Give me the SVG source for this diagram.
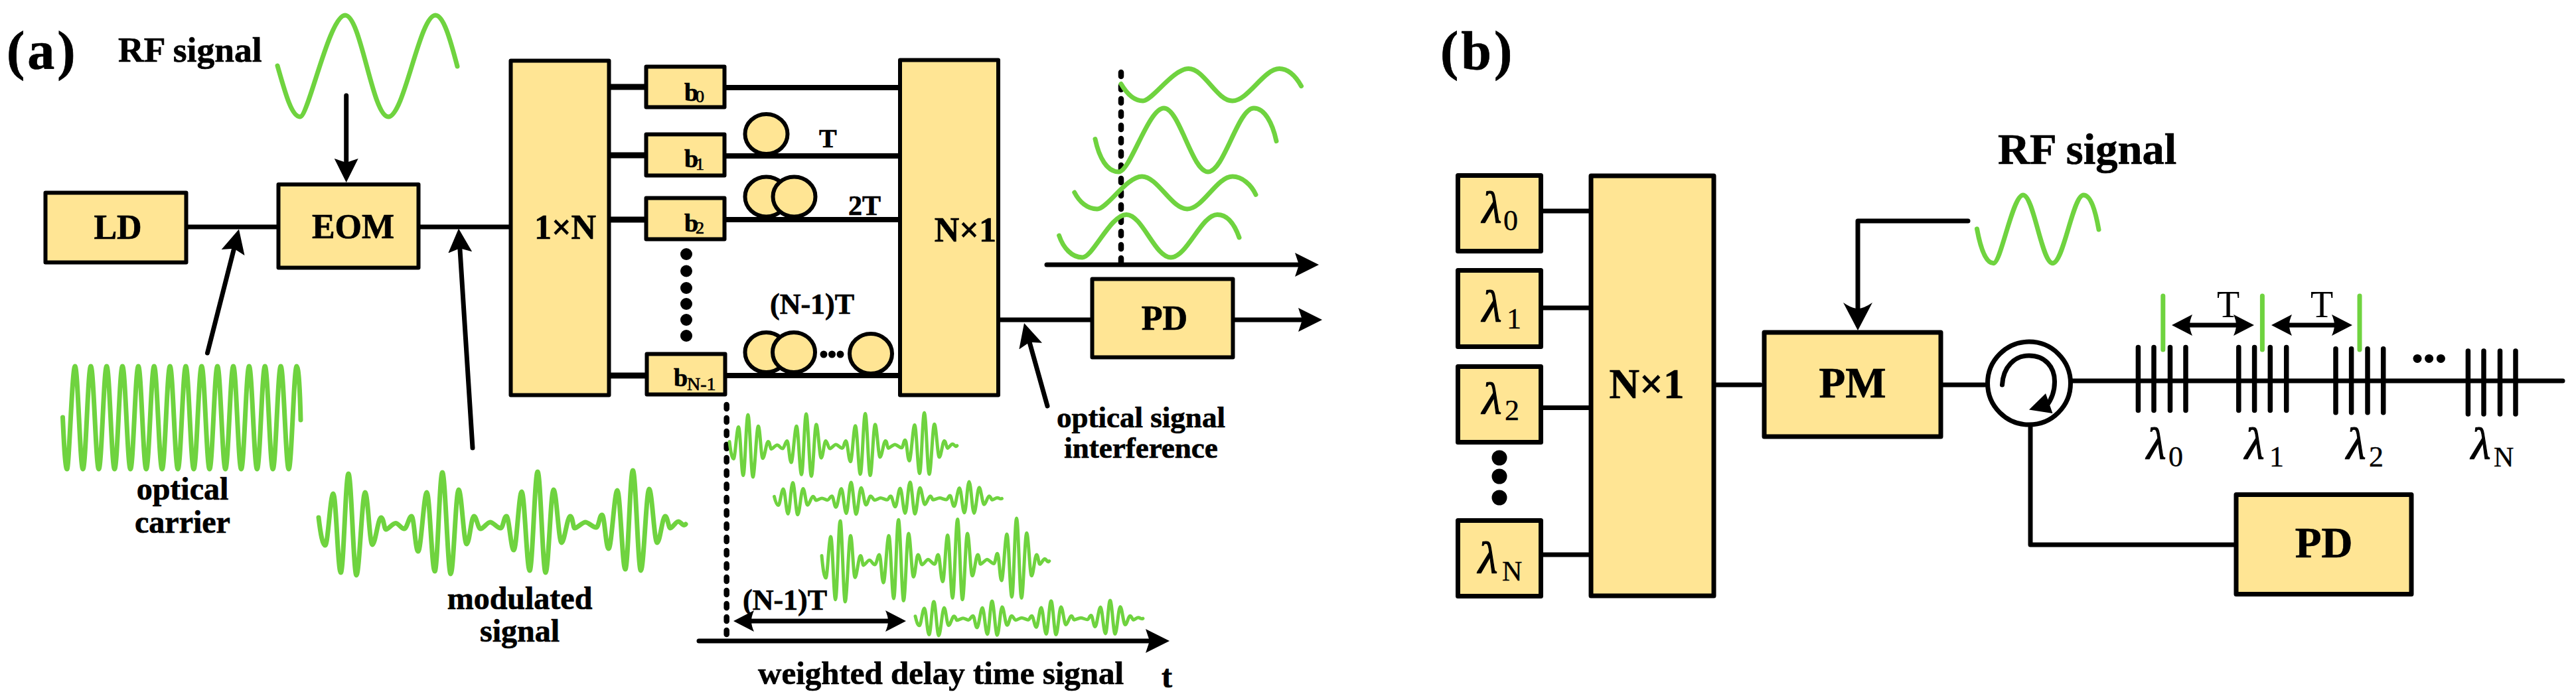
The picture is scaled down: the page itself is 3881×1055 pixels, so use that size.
<svg xmlns="http://www.w3.org/2000/svg" width="3881" height="1055" viewBox="0 0 3881 1055">
<style>
text{font-family:"Liberation Serif","Times New Roman",serif;fill:#000}
.b{font-weight:700;stroke:#000;stroke-width:.7}
.i{font-style:italic;stroke:#000;stroke-width:1.200}
.s{font-style:normal;stroke-width:.4}
.box{fill:#FFE594;stroke:#000;stroke-width:6;stroke-linejoin:round}
.bx6{fill:#FFE594;stroke:#000;stroke-width:7;stroke-linejoin:round}
.loop{fill:#FFE594;stroke:#000;stroke-width:6}
.w{fill:none;stroke:#6FD33F;stroke-width:7;stroke-linecap:round;stroke-linejoin:round}
.w4{fill:none;stroke:#6FD33F;stroke-width:5;stroke-linecap:round;stroke-linejoin:round}
.l{fill:none;stroke:#000;stroke-width:7;stroke-linecap:round;stroke-linejoin:round}
.d{fill:none;stroke:#000;stroke-width:8.500;stroke-dasharray:6 14;stroke-linecap:round}
.t{fill:none;stroke:#000;stroke-width:7.500;stroke-linecap:round}
.g{fill:none;stroke:#6FD33F;stroke-width:7;stroke-linecap:round}
.dot{fill:#000}
</style>
<defs>
<marker id="ah" markerUnits="userSpaceOnUse" markerWidth="38" markerHeight="38" viewBox="0 0 38 38" refX="26" refY="19" orient="auto"><path d="M0 1L36 19L0 37L6 19z"/></marker>
<marker id="ahL" markerUnits="userSpaceOnUse" markerWidth="46" markerHeight="46" viewBox="0 0 46 46" refX="31" refY="23" orient="auto"><path d="M0 1L42 23L0 45Q9 32 9 23Q9 14 0 1z"/></marker>
<marker id="ahD" markerUnits="userSpaceOnUse" markerWidth="34" markerHeight="34" viewBox="0 0 34 34" refX="20" refY="17" orient="auto-start-reverse"><path d="M0 1L31 17L0 33Q4 24 4 17Q4 10 0 1z"/></marker>
<path id="burst" vector-effect="non-scaling-stroke" d="M480 780C483 805 486 822 490 822S497.700 744 502 744S509.100 863 513.400 863S520.700 714 525 714S532.700 867 537 867S545.700 742 550 742S556.700 821 561 821S569.700 780 574 780S578.600 798 581.600 798S591.700 788.500 596 788.500S604.700 797 609 797S616 778 620 778S625.700 831 630 831S638.700 742 643 742S650.700 861 655 861S662.200 712 666.500 712S674.700 865 679 865S686.700 738 691 738S698.700 820 703 820S710 778 714 778S720 797 724 797S734.200 787 738.500 787S749.700 796 754 796S759 778 763 778S769.700 829 774 829S781.700 741 786 741S793.700 860 798 860S805.700 711 810 711S817.700 863 822 863S829.700 738 834 738S841.700 818 846 818S854.700 778 859 778S863 796 866 796S877.700 787 882 787S893.700 795 898 795S903 776 907 776S912.700 827 917 827S925.700 739 930 739S937.700 858 942 858S949.200 709 953.500 709S961.200 860 965.500 860S973.700 737 978 737S985.700 818 990 818S998 778 1002 778S1007 796 1010 796S1018 786 1022 786S1029 795 1033 790"/>
</defs>

<g id="connectors">
<path class="l" d="M283 342H417M633 342H767"/>
<path class="l" d="M920 131H971M920 234H971M920 331H971M920 566H972" style="stroke-width:9"/>
<path class="l" d="M1094 132H1354M1094 235H1354M1094 331H1354M1095 566H1354" style="stroke-width:8"/>
<path class="l" d="M1506 482H1643"/>
<path class="l" d="M1860 482H1982" marker-end="url(#ah)"/>
<path class="l" d="M1577 399H1977" marker-end="url(#ah)"/>
<path class="l" d="M521.700 144V265" marker-end="url(#ah)"/>
<path class="l" d="M312.500 532L357.500 355.300" marker-end="url(#ah)"/>
<path class="l" d="M712 675L691.600 354.400" marker-end="url(#ah)"/>
<path class="l" d="M1578 612L1545.700 496.600" marker-end="url(#ah)"/>
<path class="d" d="M1689 109V401"/>
<path class="d" d="M1094.700 610V970"/>
<path class="l" d="M1053 966H1752" marker-end="url(#ah)"/>
<path class="l" d="M1116 936H1354" marker-start="url(#ahD)" marker-end="url(#ahD)"/>
<path class="l" d="M2323 318H2394M2323 464H2394M2323 614.500H2394M2323 836H2394"/>
<path class="l" d="M2585 580H2652M2927 580H2990"/>
<path class="l" d="M2965 333H2799V487" marker-end="url(#ahL)"/>
<path class="l" d="M3122 574H3861"/>
<path class="l" d="M3059 644V821H3366"/>
<path class="l" d="M3283 490H3385" marker-start="url(#ahD)" marker-end="url(#ahD)"/>
<path class="l" d="M3433 490H3533" marker-start="url(#ahD)" marker-end="url(#ahD)"/>
</g>

<g id="label-a"><text class="b" x="10" y="104" font-size="82" letter-spacing="4">(a)</text></g>
<g id="label-rf-a"><text class="b" x="178" y="93" font-size="53.500">RF signal</text></g>
<g id="wave-rf-a"><path class="w" d="M418 99C430 141 439.400 176 452 176S496 23 520 23S561 176 585 176S632 23 656 23C668 23 678 58 689 100"/></g>
<g id="node-LD"><rect class="box" x="68.500" y="290.500" width="212" height="105"/><text class="b" x="177.500" y="360" font-size="52" text-anchor="middle">LD</text></g>
<g id="node-EOM"><rect class="box" x="419.500" y="278" width="211" height="125.500"/><text class="b" x="532" y="359" font-size="52" text-anchor="middle">EOM</text></g>
<g id="node-1xN"><rect class="box" x="769.500" y="91.500" width="148" height="504"/><text class="b" x="851.500" y="360" font-size="52" text-anchor="middle">1×N</text></g>
<g id="node-b0"><rect class="box" x="973.500" y="100.500" width="118" height="61"/><text class="b" x="1031" y="152" font-size="38">b<tspan x="1048" y="154" font-size="26" font-weight="400">0</tspan></text></g>
<g id="node-b1"><rect class="box" x="973.500" y="202.500" width="118" height="62"/><text class="b" x="1031" y="251.500" font-size="38">b<tspan x="1048" y="256" font-size="26" font-weight="400">1</tspan></text></g>
<g id="node-b2"><rect class="box" x="973.500" y="298.500" width="118" height="62"/><text class="b" x="1031" y="349" font-size="38">b<tspan x="1048" y="352" font-size="26" font-weight="400">2</tspan></text></g>
<g id="node-bN"><rect class="box" x="974.500" y="533.500" width="118" height="61"/><text class="b" x="1015" y="582" font-size="38">b<tspan x="1035" y="588" font-size="28" font-weight="400">N-1</tspan></text></g>
<g id="dots-a"><circle class="dot" cx="1034" cy="383" r="9"/><circle class="dot" cx="1034" cy="408.500" r="9"/><circle class="dot" cx="1034" cy="434" r="9"/><circle class="dot" cx="1034" cy="458" r="9"/><circle class="dot" cx="1034" cy="482" r="9"/><circle class="dot" cx="1034" cy="506" r="9"/></g>
<g id="delay-T"><ellipse class="loop" cx="1154.500" cy="202" rx="32" ry="30"/><text class="b" x="1234" y="222" font-size="40">T</text></g>
<g id="delay-2T"><ellipse class="loop" cx="1154.500" cy="296.500" rx="32" ry="30"/><ellipse class="loop" cx="1196.500" cy="296.500" rx="32" ry="30"/><text class="b" x="1278" y="323.500" font-size="42">2T</text></g>
<g id="delay-N1T"><ellipse class="loop" cx="1154.500" cy="531" rx="32" ry="30"/><ellipse class="loop" cx="1196" cy="531" rx="32" ry="30"/><ellipse class="loop" cx="1312" cy="533" rx="32" ry="30"/><circle class="dot" cx="1241" cy="534" r="5.500"/><circle class="dot" cx="1253.500" cy="534" r="5.500"/><circle class="dot" cx="1266" cy="534" r="5.500"/><text class="b" x="1160" y="472.500" font-size="44">(N-1)T</text></g>
<g id="node-Nx1-a"><rect class="box" x="1356" y="90.500" width="148" height="505"/><text class="b" x="1501" y="364" font-size="52" text-anchor="end">N×1</text></g>
<g id="node-PD-a"><rect class="box" x="1645.500" y="420.500" width="212" height="118"/><text class="b" x="1754.500" y="497" font-size="52" text-anchor="middle">PD</text></g>
<g id="waves-interference">
<path class="w" d="M1689 126.500C1697 140 1708 152 1722 152S1767 103.600 1790.700 103.600S1833 152 1856.700 152S1904 103.600 1927.500 103.600C1942 103.600 1952 115 1960.500 129.700"/>
<path class="w" d="M1650 209.600C1656 238 1668 259 1685.400 259S1730 163 1753.500 163S1796 259 1820 259S1865 163 1889 163C1905 163 1917 185 1923 212.700"/>
<path class="w" d="M1618.800 290C1626 304 1638 315 1653 315S1697 266 1720.500 266S1765 315 1788.600 315S1833 266 1857 266C1871 266 1885 278 1892 293.400"/>
<path class="w" d="M1595.600 355C1602 374 1615 388 1630.700 388S1673 323.400 1697 323.400S1740 388 1764 388S1810 323.400 1834 323.400C1850 323.400 1860 338 1867 358"/>
</g>
<g id="wave-carrier"><path class="w" d="M94.500 629C96 660 98 707 101 707
S108.700 552 113 552S120.600 707 124.900 707
S132.500 552 136.800 552S144.500 707 148.800 707
S156.400 552 160.700 552S168.300 707 172.600 707
S180.200 552 184.500 552S192.200 707 196.500 707
S204.100 552 208.400 552S216 707 220.300 707
S227.900 552 232.200 552S239.900 707 244.200 707
S251.800 552 256.100 552S263.700 707 268 707
S275.600 552 279.900 552S287.600 707 291.900 707
S299.500 552 303.800 552S311.400 707 315.700 707
S323.300 552 327.600 552S335.300 707 339.600 707
S347.200 552 351.500 552S359.100 707 363.400 707
S371 552 375.300 552S383 707 387.300 707
S394.900 552 399.200 552S406.800 707 411.100 707
S418.700 552 423 552S430.700 707 435 707
S442.700 552 447 552C450 552 452 590 453 633"/></g>
<g id="label-carrier"><text class="b" x="275" y="753" font-size="48" text-anchor="middle">optical</text><text class="b" x="275" y="803" font-size="48" text-anchor="middle">carrier</text></g>
<g id="wave-modulated"><use href="#burst" class="w"/></g>
<g id="label-modulated"><text class="b" x="783" y="918" font-size="48" text-anchor="middle">modulated</text><text class="b" x="783" y="967" font-size="48" text-anchor="middle">signal</text></g>
<g id="label-interference"><text class="b" x="1719" y="644" font-size="45" text-anchor="middle">optical signal</text><text class="b" x="1719" y="690" font-size="45" text-anchor="middle">interference</text></g>
<g id="waves-delayed">
<use href="#burst" class="w4" transform="translate(801.400 186.700) scale(.62 .614)"/>
<use href="#burst" class="w4" transform="translate(868.900 503.400) scale(.62 .314)"/>
<use href="#burst" class="w4" transform="translate(940.400 215.900) scale(.62 .797)"/>
<use href="#burst" class="w4" transform="translate(1081.400 667.500) scale(.62 .335)"/>
</g>
<g id="label-delay"><text class="b" x="1119" y="919" font-size="44">(N-1)T</text></g>
<g id="label-weighted"><text class="b" x="1142" y="1031" font-size="49">weighted delay time signal</text><text class="b" x="1750" y="1036" font-size="48">t</text></g>

<g id="label-b"><text class="b" x="2170" y="104" font-size="82" letter-spacing="4">(b)</text></g>
<g id="node-l0"><rect class="bx6" x="2196.500" y="264.500" width="125" height="114"/><text class="i" x="2233" y="336" font-size="68">λ<tspan class="s" x="2265" y="347" font-size="44">0</tspan></text></g>
<g id="node-l1"><rect class="bx6" x="2196.500" y="407.500" width="125" height="115"/><text class="i" x="2233" y="485" font-size="68">λ<tspan class="s" x="2270" y="495" font-size="44">1</tspan></text></g>
<g id="node-l2"><rect class="bx6" x="2196.500" y="552.500" width="125" height="114"/><text class="i" x="2233" y="624" font-size="68">λ<tspan class="s" x="2267" y="633" font-size="44">2</tspan></text></g>
<g id="node-lN"><rect class="bx6" x="2196.500" y="784.500" width="125" height="114"/><text class="i" x="2227" y="864" font-size="68">λ<tspan class="s" x="2263" y="875" font-size="42">N</tspan></text></g>
<g id="dots-b"><circle class="dot" cx="2259" cy="690" r="11.500"/><circle class="dot" cx="2259" cy="718" r="11.500"/><circle class="dot" cx="2259" cy="750" r="11.500"/></g>
<g id="node-Nx1-b"><rect class="bx6" x="2397" y="265" width="185" height="633"/><text class="b" x="2481" y="600" font-size="63" text-anchor="middle">N×1</text></g>
<g id="node-PM"><rect class="bx6" x="2658" y="501" width="266" height="157"/><text class="b" x="2791" y="599" font-size="65" text-anchor="middle">PM</text></g>
<g id="label-rf-b"><text class="b" x="3010" y="246.500" font-size="66.500">RF signal</text></g>
<g id="wave-rf-b"><path class="w" d="M2978.500 345C2984 375 2992 396.700 3003.400 396.700S3032 294 3048 294S3076 396.700 3092.500 396.700S3123 294 3139 294C3150 294 3157 318 3162 346"/></g>
<g id="node-circulator"><circle cx="3057" cy="577.600" r="62.500" fill="#fff" stroke="#000" stroke-width="7"/><path d="M3016.500 580C3018 553 3035 536 3057 536C3081 536 3095.500 553 3095.500 575C3095.500 590 3091 602 3083 612" fill="none" stroke="#000" stroke-width="7" stroke-linecap="round"/><path d="M3057 617.500L3082 593L3092.500 623z"/></g>
<g id="grating-0"><path class="t" d="M3221.400 523.400V618.500M3245 523.400V618.500M3269.500 523.400V618.500M3293 523.400V618.500"/></g>
<g id="grating-1"><path class="t" d="M3372.800 523.400V618.500M3396.600 523.400V618.500M3420.300 523.400V618.500M3444.700 523.400V618.500"/></g>
<g id="grating-2"><path class="t" d="M3519 525.700V621.700M3542.600 525.700V621.700M3567 525.700V621.700M3590.700 525.700V621.700"/></g>
<g id="grating-N"><path class="t" d="M3718.400 529V624M3742 529V624M3766.500 529V624M3790 529V624"/></g>
<g id="markers-T"><path class="g" d="M3258.800 446V527M3408.400 446V527M3555 446V527"/><text x="3340" y="478.400" font-size="56">T</text><text x="3481" y="478.400" font-size="56">T</text></g>
<g id="dots-grating"><circle class="dot" cx="3642" cy="540.400" r="6.500"/><circle class="dot" cx="3659.600" cy="540.400" r="6.500"/><circle class="dot" cx="3677.400" cy="540.400" r="6.500"/></g>
<g id="labels-lambda">
<text class="i" x="3234" y="692" font-size="68">λ<tspan class="s" x="3267" y="703" font-size="44">0</tspan></text>
<text class="i" x="3382" y="692" font-size="68">λ<tspan class="s" x="3419" y="703" font-size="44">1</tspan></text>
<text class="i" x="3535" y="692" font-size="68">λ<tspan class="s" x="3569" y="703" font-size="44">2</tspan></text>
<text class="i" x="3723" y="692" font-size="68">λ<tspan class="s" x="3757" y="703" font-size="42">N</tspan></text>
</g>
<g id="node-PD-b"><rect class="bx6" x="3369" y="745.500" width="264" height="150"/><text class="b" x="3501" y="840" font-size="65" text-anchor="middle">PD</text></g>
</svg>
